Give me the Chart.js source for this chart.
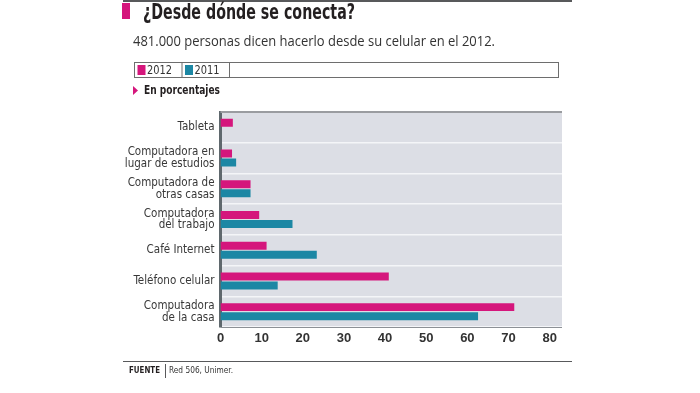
<!DOCTYPE html>
<html>
<head>
<meta charset="utf-8">
<script src="https://cdn.jsdelivr.net/npm/chart.js@4"></script>
<style>
	body { margin: 0; background: #fff; }
	#wrap { position: relative; width: 700px; height: 393px; }
</style>
</head>
<body>
<div id="wrap"><canvas id="chart"></canvas></div>
<script>
// datos (en porcentajes)
const categories = [
	'Tableta',
	['Computadora en', 'lugar de estudios'],
	['Computadora de', 'otras casas'],
	['Computadora', 'del trabajo'],
	'Café Internet',
	'Teléfono celular',
	['Computadora', 'de la casa']
];
const values2012 = [3.0, 2.8, 7.3, 9.4, 11.2, 40.9, 71.4];
const values2011 = [null, 3.8, 7.3, 17.5, 23.4, 13.9, 62.6];
const seriesNames = ['2012', '2011'];
const seriesColors = ['#d5167c', '#1c87a4'];
const xTicks = [0, 10, 20, 30, 40, 50, 60, 70, 80];

const title = '¿Desde dónde se conecta?';
const subtitle = '481.000 personas dicen hacerlo desde su celular en el 2012.';
const unitsNote = 'En porcentajes';
const sourceLabel = 'FUENTE';
const sourceText = 'Red 506, Unimer.';

const narrow = '"Liberation Sans Narrow", "DejaVu Sans Condensed", sans-serif';

const decorPlugin = {
	id: 'decor',
	beforeDraw(chart) {
		let ctx = chart.ctx;
		let a = chart.chartArea;
		ctx.save();
		ctx.fillStyle = '#dcdee5';
		ctx.fillRect(a.left, a.top, a.right - a.left, a.bottom - a.top);
		ctx.restore();
	},
	afterDraw(chart) {
		let ctx = chart.ctx;
		let a = chart.chartArea;
		ctx.save();
		// lineas del area
		ctx.strokeStyle = '#9a9ca0';
		ctx.lineWidth = 2;
		ctx.beginPath(); ctx.moveTo(a.left, a.top); ctx.lineTo(a.right, a.top); ctx.stroke();
		ctx.lineWidth = 1;
		ctx.strokeStyle = '#8c9095';
		ctx.beginPath(); ctx.moveTo(a.left, a.bottom + 0.5); ctx.lineTo(a.right, a.bottom + 0.5); ctx.stroke();

		// cabecera
		ctx.fillStyle = '#58595b';
		ctx.fillRect(123, 0, 449, 2);
		ctx.fillStyle = '#d5167c';
		ctx.fillRect(122, 3, 8, 16);
		ctx.fillStyle = '#231f20';
		ctx.textBaseline = 'alphabetic';
		ctx.font = 'bold 21px ' + narrow;
		ctx.fillText(title, 143, 19, 212);
		ctx.fillStyle = '#333';
		ctx.font = '15px "Open Sans", sans-serif';
		ctx.fillText(subtitle, 133, 46, 362);

		// leyenda
		ctx.strokeStyle = '#6e6e6e';
		ctx.lineWidth = 1;
		ctx.strokeRect(134.5, 62.5, 424, 15);
		let x = 134.5;
		ctx.font = '12px ' + narrow;
		ctx.textBaseline = 'middle';
		chart.data.datasets.forEach(function (ds) {
			ctx.fillStyle = ds.backgroundColor;
			ctx.fillRect(x + 3, 65, 8, 10);
			ctx.fillStyle = '#333';
			ctx.fillText(ds.label, x + 12.5, 70.5, 25);
			x += 47.5;
			ctx.beginPath(); ctx.moveTo(x, 62.5); ctx.lineTo(x, 77.5); ctx.stroke();
		});

		ctx.fillStyle = '#d5167c';
		ctx.beginPath(); ctx.moveTo(133, 86); ctx.lineTo(138, 90.5); ctx.lineTo(133, 95); ctx.closePath(); ctx.fill();
		ctx.fillStyle = '#231f20';
		ctx.font = 'bold 11.5px ' + narrow;
		ctx.fillText(unitsNote, 144, 91, 76);

		// fuente
		ctx.strokeStyle = '#58595b';
		ctx.beginPath(); ctx.moveTo(123, 361.5); ctx.lineTo(572, 361.5); ctx.stroke();
		ctx.beginPath(); ctx.moveTo(165.5, 364); ctx.lineTo(165.5, 378); ctx.stroke();
		ctx.font = 'bold 9.5px ' + narrow;
		ctx.fillText(sourceLabel, 129, 371, 31);
		ctx.fillStyle = '#333';
		ctx.font = '9.5px ' + narrow;
		ctx.fillText(sourceText, 169, 371, 64);
		ctx.restore();
	}
};

new Chart(document.getElementById('chart'), {
	type: 'bar',
	data: {
		labels: categories,
		datasets: [
			{label: seriesNames[0], data: values2012, backgroundColor: seriesColors[0]},
			{label: seriesNames[1], data: values2011, backgroundColor: seriesColors[1]}
		]
	},
	options: {
		indexAxis: 'y',
		responsive: true,
		maintainAspectRatio: false,
		animation: false,
		categoryPercentage: 0.59,
		barPercentage: 0.88,
		layout: {padding: {left: 0, right: 138, top: 112, bottom: 36}},
		plugins: {
			legend: {display: false},
			tooltip: {enabled: false}
		},
		scales: {
			x: {
				min: 0,
				max: 83,
				afterFit: function (s) { s.height = 30; },
				afterBuildTicks: function (s) { s.ticks = xTicks.map(v => ({value: v})); },
				grid: {display: false, drawTicks: false},
				border: {display: false},
				ticks: {
					padding: 4,
					color: '#333',
					font: {family: '"Liberation Sans", sans-serif', weight: 'bold', size: 13}
				}
			},
			y: {
				afterFit: function (s) { s.width = 220.5; },
				grid: {color: '#f4f5f8', lineWidth: 1.5, offset: true, drawTicks: false},
				border: {display: true, color: '#5f686d', width: 3},
				ticks: {
					padding: 6,
					color: '#383838',
					font: {family: narrow, size: 11.5, lineHeight: 1.04}
				}
			}
		}
	},
	plugins: [decorPlugin]
});
</script>
</body>
</html>
